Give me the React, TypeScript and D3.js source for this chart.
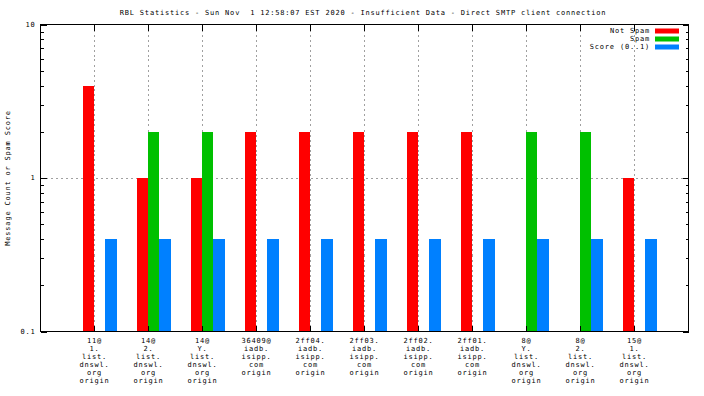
import React from 'react'
import * as d3 from 'd3'

const title = 'RBL Statistics - Sun Nov  1 12:58:07 EST 2020 - Insufficient Data - Direct SMTP client connection'
const yLabel = 'Message Count or Spam Score'

// each category label is drawn as several lines
const categories = [
  ['11@', '1.', 'list.', 'dnswl.', 'org', 'origin'],
  ['14@', '2.', 'list.', 'dnswl.', 'org', 'origin'],
  ['14@', 'Y.', 'list.', 'dnswl.', 'org', 'origin'],
  ['36409@', 'iadb.', 'isipp.', 'com', 'origin'],
  ['2ff04.', 'iadb.', 'isipp.', 'com', 'origin'],
  ['2ff03.', 'iadb.', 'isipp.', 'com', 'origin'],
  ['2ff02.', 'iadb.', 'isipp.', 'com', 'origin'],
  ['2ff01.', 'iadb.', 'isipp.', 'com', 'origin'],
  ['8@', 'Y.', 'list.', 'dnswl.', 'org', 'origin'],
  ['8@', '2.', 'list.', 'dnswl.', 'org', 'origin'],
  ['15@', '1.', 'list.', 'dnswl.', 'org', 'origin'],
]
const notSpam = [4, 1, 1, 2, 2, 2, 2, 2, 0, 0, 1]
const spam = [0, 2, 2, 0, 0, 0, 0, 0, 2, 2, 0]
const score = [0.4, 0.4, 0.4, 0.4, 0.4, 0.4, 0.4, 0.4, 0.4, 0.4, 0.4]
const yTicks = [0.1, 1, 10]
const yTickLabels = ['0.1', '1', '10']

const seriesNames = ['Not Spam', 'Spam', 'Score (0..1)']
const colors = ['#ff0000', '#00c000', '#0080ff']

const W = 704
const H = 396
const left = 40.5
const right = 688.5
const top = 24.5
const bottom = 331.5
const font = 'DejaVu Sans Mono, monospace'
const fs = 7
const ls = 0.8

export default function App() {
  const x = d3
    .scalePoint()
    .domain(categories.map((d, i) => String(i)))
    .range([left, right])
    .padding(1)
  const y = d3.scaleLog().domain([0.1, 10]).range([bottom, top])
  const sub = d3.scaleBand().domain(['0', '1', '2']).range([-11.5, 22]).padding(0)

  const series = [notSpam, spam, score]
  const minor: number[] = []
  ;[0.1, 1].forEach(b => {
    for (let k = 2; k <= 9; k++) minor.push(b * k)
  })
  const snap = (v: number) => Math.round(v) + 0.5

  return (
    <svg
      width={W}
      height={H}
      style={{ position: 'absolute', left: 0, top: 0, background: '#fff', whiteSpace: 'pre' }}
      fontFamily={font}
      fontSize={fs}
      letterSpacing={ls}
    >
      <rect width={W} height={H} fill="#fff" />
      {/* grid */}
      <g stroke="#a0a0a0" strokeDasharray="2,3" shapeRendering="crispEdges">
        {categories.map((c, i) => (
          <line key={i} x1={x(String(i))} x2={x(String(i))} y1={top} y2={bottom} />
        ))}
        <line x1={left} x2={right} y1={snap(y(1))} y2={snap(y(1))} />
      </g>
      {/* bars */}
      <g shapeRendering="crispEdges">
        {series.map((vals, s) =>
          vals.map((v, i) =>
            v > 0 ? (
              <rect
                key={s + '-' + i}
                x={(x(String(i)) as number) + (sub(String(s)) as number)}
                width={sub.bandwidth()}
                y={y(v)}
                height={bottom - y(v)}
                fill={colors[s]}
              />
            ) : null
          )
        )}
      </g>
      {/* ticks */}
      <g stroke="#000" shapeRendering="crispEdges">
        {yTicks.map(t => (
          <g key={t}>
            <line x1={left} x2={left + 6} y1={snap(y(t))} y2={snap(y(t))} />
            <line x1={right - 6} x2={right} y1={snap(y(t))} y2={snap(y(t))} />
          </g>
        ))}
        {minor.map(t => (
          <g key={'m' + t}>
            <line x1={left} x2={left + 3} y1={snap(y(t))} y2={snap(y(t))} />
            <line x1={right - 3} x2={right} y1={snap(y(t))} y2={snap(y(t))} />
          </g>
        ))}
        {categories.map((c, i) => (
          <g key={'x' + i}>
            <line x1={x(String(i))} x2={x(String(i))} y1={top} y2={top + 6} />
            <line x1={x(String(i))} x2={x(String(i))} y1={bottom - 6} y2={bottom} />
          </g>
        ))}
      </g>
      {/* border */}
      <rect
        x={left}
        y={top}
        width={right - left}
        height={bottom - top}
        fill="none"
        stroke="#000"
        shapeRendering="crispEdges"
      />
      {/* y tick labels */}
      {yTicks.map((t, i) => (
        <text key={'yl' + t} x={left - 5} y={y(t)} dy="0.35em" textAnchor="end">
          {yTickLabels[i]}
        </text>
      ))}
      {/* x labels */}
      {categories.map((lines, i) => (
        <text key={'xl' + i} textAnchor="middle">
          {lines.map((l, j) => (
            <tspan key={j} x={x(String(i))} y={bottom + 11.5 + j * 8}>
              {l}
            </tspan>
          ))}
        </text>
      ))}
      {/* y label */}
      <text transform={`translate(10,${(top + bottom) / 2}) rotate(-90)`} textAnchor="middle">
        {yLabel}
      </text>
      {/* title */}
      <text x={363} y={15} textAnchor="middle" xmlSpace="preserve">
        {title}
      </text>
      {/* legend */}
      {seriesNames.map((n, s) => (
        <g key={n}>
          <text x={650} y={31 + s * 8} dy="0.35em" textAnchor="end">
            {n}
          </text>
          <rect x={655} y={28.5 + s * 8} width={24} height={5} fill={colors[s]} />
        </g>
      ))}
    </svg>
  )
}
